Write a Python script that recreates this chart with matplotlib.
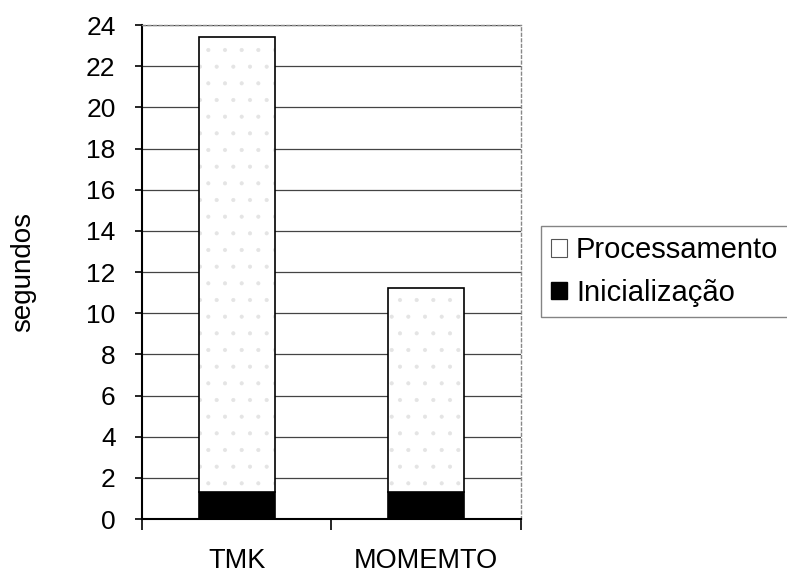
import matplotlib
matplotlib.use("Agg")
import matplotlib.pyplot as plt
from matplotlib.patches import Patch

categories = ["TMK", "MOMEMTO"]
inicializacao = [1.3, 1.3]
total = [23.4, 11.2]
processamento = [t - i for t, i in zip(total, inicializacao)]
yticks = list(range(0, 25, 2))

plt.rcParams["font.family"] = ["Liberation Sans", "DejaVu Sans"]
plt.rcParams["hatch.linewidth"] = 0.5

fig = plt.figure(figsize=(7.87, 5.74), dpi=100)
ax = fig.add_axes([0.1804, 0.0958, 0.4816, 0.8606])

x = [0.5, 1.5]
w = 0.4
ax.bar(x, inicializacao, width=w, color="black", edgecolor="black", linewidth=1.2, zorder=3)
# white fill with a faint stipple, then the black outline
ax.bar(x, processamento, width=w, bottom=inicializacao, color="white", linewidth=0, zorder=3)
ax.bar(x, processamento, width=w, bottom=inicializacao, facecolor="none",
       edgecolor="#e4e4e4", linewidth=0, hatch=".", zorder=3.5)
ax.bar(x, processamento, width=w, bottom=inicializacao, facecolor="none",
       edgecolor="black", linewidth=1.2, zorder=4)

ax.set_xlim(0, 2)
ax.set_ylim(0, 24)
ax.set_yticks(yticks)
ax.set_yticklabels([str(v) for v in yticks], fontsize=19)
ax.yaxis.grid(True, color="#444444", linewidth=0.9, zorder=0)
ax.set_xticks([0, 1, 2])
ax.set_xticklabels([])
ax.set_xticks(x, minor=True)
ax.set_xticklabels(categories, minor=True, fontsize=19.5)
ax.tick_params(axis="x", which="minor", length=0, pad=21)
ax.tick_params(axis="x", which="major", length=8, width=1.2, direction="out")
ax.tick_params(axis="y", length=5, width=1.2, direction="out", pad=14)

for s in ("left", "bottom"):
    ax.spines[s].set_linewidth(1.5)
for s in ("top", "right"):
    ax.spines[s].set_linewidth(1.0)
    ax.spines[s].set_color("#888888")
    ax.spines[s].set_linestyle((0, (2, 2)))

ax.set_ylabel("segundos", fontsize=20, labelpad=36)

handles = [Patch(facecolor="white", edgecolor="#555555", linewidth=0.8),
           Patch(facecolor="black", edgecolor="black")]
leg = fig.legend(handles, ["Processamento", "Inicialização"], loc="upper left",
                 bbox_to_anchor=(541 / 787, 1 - 226 / 574), fontsize=21,
                 frameon=True, fancybox=False, handlelength=0.55, handleheight=0.55,
                 handletextpad=0.3, borderpad=0.35, labelspacing=0.5, borderaxespad=0)
leg.get_frame().set_edgecolor("#666666")
leg.get_frame().set_linewidth(1.0)

fig.savefig("out.png", dpi=100)
